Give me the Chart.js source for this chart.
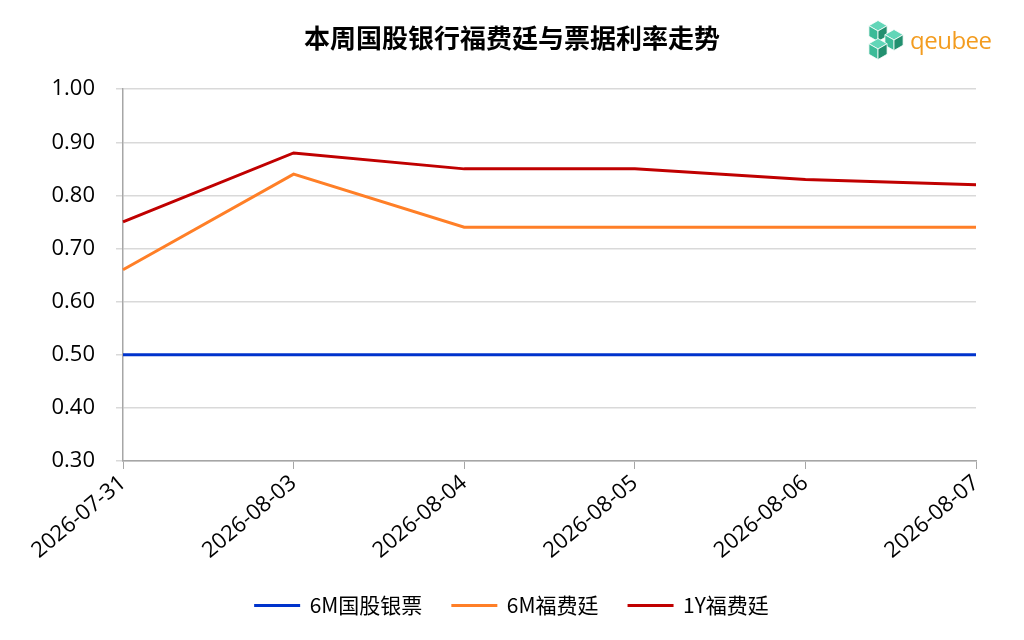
<!DOCTYPE html>
<html>
<head>
<meta charset="utf-8">
<script src="https://cdn.jsdelivr.net/npm/chart.js@4.4.1/dist/chart.umd.min.js"></script>
<style>
  html, body { margin: 0; padding: 0; background: #fff; }
  #wrap { position: relative; width: 1024px; height: 640px; }
  #logo { position: absolute; left: 865px; top: 19px; }
</style>
</head>
<body>
<div id="wrap">
  <canvas id="lineChart" width="1024" height="640"></canvas>
  <svg id="logo" width="132" height="44" viewBox="0 0 132 44">
    <g id="cubes" stroke="#fff" stroke-width="0.8" stroke-linejoin="round"></g>
    <text x="45" y="30" fill="#f39c1f" font-family="'Open Sans', Lato, sans-serif" font-size="24" letter-spacing="-0.5">qeubee</text>
  </svg>
</div>
<script>
(function () {
    "use strict";

    // data
    var dates = ["2026-07-31", "2026-08-03", "2026-08-04", "2026-08-05", "2026-08-06", "2026-08-07"];
    var bankBill6M = [0.50, 0.50, 0.50, 0.50, 0.50, 0.50];
    var forfait6M = [0.66, 0.84, 0.74, 0.74, 0.74, 0.74];
    var forfait1Y = [0.75, 0.88, 0.85, 0.85, 0.83, 0.82];
    var yTicks = [0.30, 0.40, 0.50, 0.60, 0.70, 0.80, 0.90, 1.00];

    // logo: three little isometric cubes
    var cubeSpots = [[13, 12], [29, 21], [13, 30]];
    var g = document.getElementById("cubes");
    cubeSpots.forEach(function (c) {
        var x = c[0], y = c[1], r = 10.5, w = 9.1;
        var faces = [
            [[x, y - r], [x + w, y - r / 2], [x, y], [x - w, y - r / 2], "#62d6b8"],
            [[x - w, y - r / 2], [x, y], [x, y + r], [x - w, y + r / 2], "#3cbb98"],
            [[x, y], [x + w, y - r / 2], [x + w, y + r / 2], [x, y + r], "#22906f"]
        ];
        faces.forEach(function (f) {
            var p = document.createElementNS("http://www.w3.org/2000/svg", "polygon");
            p.setAttribute("points", f.slice(0, 4).map(function (q) { return q.join(","); }).join(" "));
            p.setAttribute("fill", f[4]);
            g.appendChild(p);
        });
    });

    var axisColor = "#a6a6a6";
    var gridColor = "#d9d9d9";
    var tickFont = { family: "'Open Sans', 'Noto Sans', sans-serif", size: 22 };

    function series(label, data, color) {
        return {
            label: label,
            data: data,
            borderColor: color,
            backgroundColor: color,
            borderWidth: 3,
            pointRadius: 0,
            pointHoverRadius: 0,
            tension: 0,
            fill: false
        };
    }

    var ctx = document.getElementById("lineChart");
    new Chart(ctx, {
        type: 'line',
        data: {
            labels: dates,
            datasets: [
                series("6M国股银票", bankBill6M, "#0033cc"),
                series("6M福费廷", forfait6M, "#ff7f27"),
                series("1Y福费廷", forfait1Y, "#c00000")
            ]
        },
        options: {
            responsive: false,
            animation: false,
            devicePixelRatio: 1,
            layout: { padding: { left: 0, right: 0, top: 0, bottom: 14 } },
            plugins: {
                title: {
                    display: true,
                    text: "本周国股银行福费廷与票据利率走势",
                    color: "#000",
                    font: { family: "'Noto Sans CJK SC', sans-serif", size: 26, weight: 'bold' },
                    padding: { top: 23, bottom: 35 }
                },
                legend: {
                    position: 'bottom',
                    labels: {
                        boxWidth: 44,
                        boxHeight: 1,
                        color: "#000",
                        padding: 30,
                        font: { family: "'Noto Sans CJK SC', sans-serif", size: 21 },
                        generateLabels: function (chart) {
                            var items = Chart.defaults.plugins.legend.labels.generateLabels(chart);
                            items.forEach(function (it) { it.lineWidth = 2; });
                            return items;
                        }
                    }
                },
                tooltip: { enabled: false }
            },
            scales: {
                x: {
                    offset: false,
                    grid: {
                        drawOnChartArea: false,
                        drawTicks: true,
                        tickLength: 8,
                        color: axisColor
                    },
                    border: { color: axisColor, width: 1.5 },
                    ticks: {
                        color: "#000",
                        font: tickFont,
                        minRotation: 40,
                        maxRotation: 40,
                        padding: 1
                    }
                },
                y: {
                    min: yTicks[0],
                    max: yTicks[yTicks.length - 1],
                    afterFit: function (scale) { scale.width = 123; },
                    afterBuildTicks: function (scale) {
                        scale.ticks = yTicks.map(function (v) { return { value: v }; });
                    },
                    grid: {
                        color: gridColor,
                        lineWidth: 1.5,
                        tickLength: 7
                    },
                    border: { color: axisColor, width: 1.5 },
                    ticks: {
                        color: "#000",
                        font: tickFont,
                        padding: 21,
                        callback: function (v) { return Number(v).toFixed(2); }
                    }
                },
                // empty right-hand strip so the plot stops short of the edge
                spacer: {
                    type: 'linear',
                    position: 'right',
                    afterFit: function (scale) { scale.width = 48; },
                    grid: { display: false },
                    border: { display: false },
                    ticks: { display: false }
                }
            }
        }
    });
})();
</script>
</body>
</html>
